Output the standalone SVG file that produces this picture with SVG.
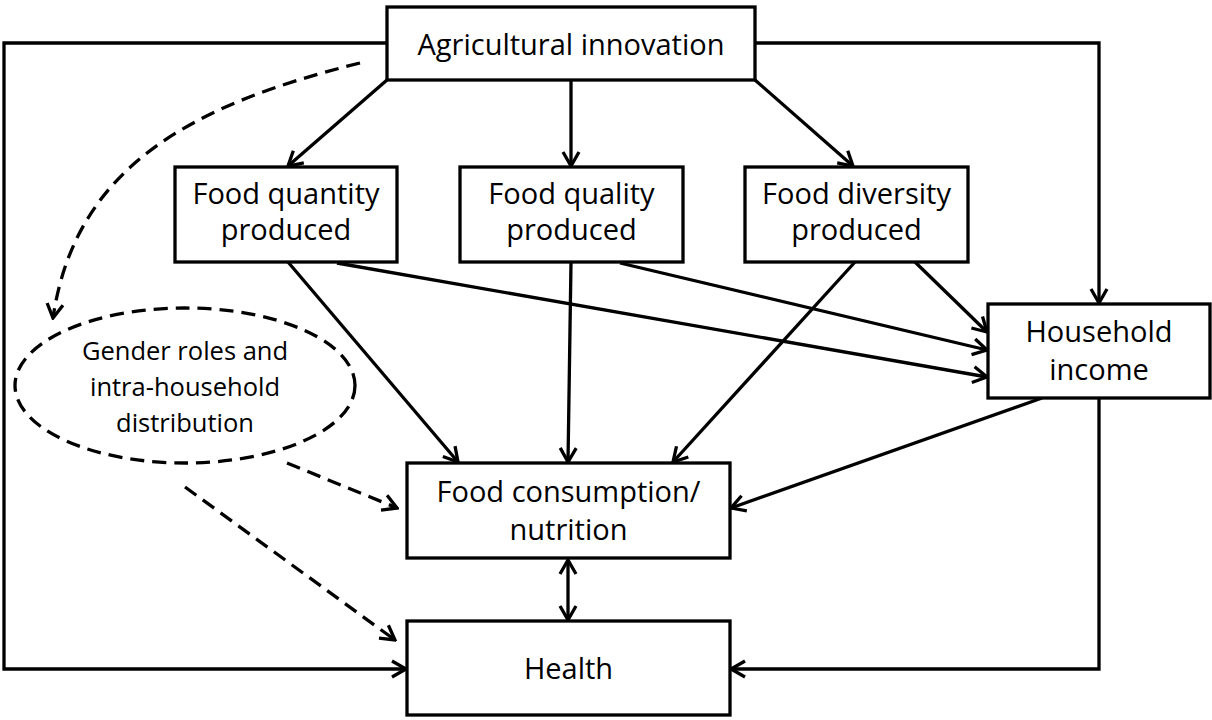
<svg xmlns="http://www.w3.org/2000/svg" width="1212" height="720" viewBox="0 0 1212 720">
<style>
.box{fill:#fff;stroke:#000;stroke-width:3.3}
.t{font-family:"Open Sans","Liberation Sans",sans-serif;font-size:29px;text-anchor:middle;fill:#000}
.s{font-size:25.5px}
.c{fill:none;stroke:#000;stroke-width:3.3;marker-end:url(#a)}
.p{fill:none;stroke:#000;stroke-width:3.3}
.d{stroke-dasharray:14 8}
</style>
<defs>
<marker id="a" viewBox="-16 -10 18 20" refX="0" refY="0" markerWidth="18" markerHeight="20" orient="auto-start-reverse" markerUnits="userSpaceOnUse">
<path d="M-14,-8 L0,0 L-14,8" fill="none" stroke="#000" stroke-width="3.3" stroke-dasharray="none"/>
</marker>
</defs>
<rect width="1212" height="720" fill="#fff"/>
<g id="connectors">
<path class="c" d="M387,80 L288,166"/>
<path class="c" d="M571,80 L571,166"/>
<path class="c" d="M755,80 L853,166"/>
<path class="c" d="M755,43 L1099,43 L1099,303"/>
<path class="c" d="M387,43 L4,43 L4,669 L406,669"/>
<path class="c" d="M1099,398 L1099,669 L731,669"/>
<path class="c" d="M288,262 L458,462"/>
<path class="c" d="M337,263 L987,377"/>
<path class="c" d="M571,262 L568,462"/>
<path class="c" d="M620,263 L987,350"/>
<path class="c" d="M855,262 L673,462"/>
<path class="c" d="M915,262 L987,332"/>
<path class="c" d="M1042,398 L731,508"/>
<path class="c" d="M568,560 L568,620" style="marker-start:url(#a)"/>
<path class="c d" d="M360,63 C190,105 75,168 53,318"/>
<path class="c d" d="M287,463 L397,508"/>
<path class="c d" d="M185,487 L395,640"/>
</g>
<g id="n-agri"><rect class="box" x="387" y="7" width="368" height="73"/><text class="t" x="571" y="55">Agricultural innovation</text></g>
<g id="n-quantity"><rect class="box" x="175" y="167" width="222" height="95"/><text class="t" x="286" y="204">Food quantity</text><text class="t" x="286" y="240">produced</text></g>
<g id="n-quality"><rect class="box" x="460" y="167" width="223" height="95"/><text class="t" x="571.5" y="204">Food quality</text><text class="t" x="571.5" y="240">produced</text></g>
<g id="n-diversity"><rect class="box" x="745" y="167" width="223" height="95"/><text class="t" x="856.5" y="204">Food diversity</text><text class="t" x="856.5" y="240">produced</text></g>
<g id="n-income"><rect class="box" x="988" y="304" width="222" height="94"/><text class="t" x="1099" y="342">Household</text><text class="t" x="1099" y="380">income</text></g>
<g id="n-consumption"><rect class="box" x="407" y="463" width="323" height="95"/><text class="t" x="568.5" y="502">Food consumption/</text><text class="t" x="568.5" y="540">nutrition</text></g>
<g id="n-health"><rect class="box" x="407" y="621" width="323" height="94"/><text class="t" x="568.5" y="679">Health</text></g>
<g id="n-gender"><ellipse cx="185" cy="385.5" rx="170" ry="77.5" class="p d"/><text class="t s" x="185" y="360">Gender roles and</text><text class="t s" x="185" y="396">intra-household</text><text class="t s" x="185" y="432">distribution</text></g>
</svg>
